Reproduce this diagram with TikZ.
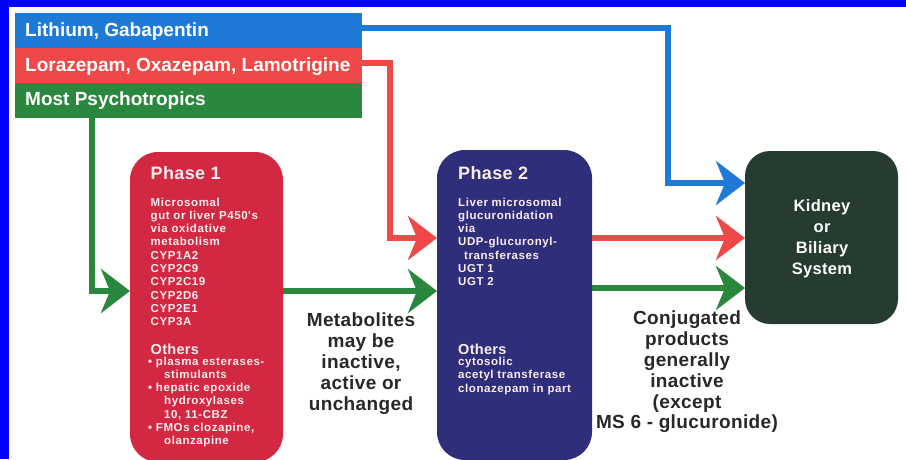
\documentclass[tikz,border=0pt]{standalone}
\usepackage{fontspec}
\setmainfont{Liberation Sans}
\newfontfamily\bodyf{Liberation Sans}[LetterSpace=5]
\newfontfamily\headf{Liberation Sans}[LetterSpace=2]
\usetikzlibrary{arrows.meta,positioning,calc}
\definecolor{frameblue}{RGB}{0,0,255}
\definecolor{barblue}{RGB}{30,122,212}
\definecolor{barred}{RGB}{238,72,72}
\definecolor{bargreen}{RGB}{42,136,62}
\definecolor{ponec}{RGB}{210,40,66}
\definecolor{ptwoc}{RGB}{46,46,122}
\definecolor{kidc}{RGB}{38,60,48}
\definecolor{darktext}{RGB}{40,40,40}
\definecolor{boxtext}{RGB}{250,238,240}
\tikzset{
  bar/.style={minimum width=347pt, minimum height=35pt, inner sep=0pt, outer sep=0pt, text=white},
  bartext/.style={anchor=west, inner sep=0pt, text=white, font=\bfseries\fontsize{19}{21}\selectfont},
  phasebox/.style={rounded corners=28pt, minimum width=154pt, minimum height=310pt, inner sep=0pt, outer sep=0pt},
  heading/.style={anchor=north west, inner sep=0pt, text=boxtext, font=\headf\bfseries\fontsize{18}{20}\selectfont},
  subhead/.style={anchor=north west, inner sep=0pt, text=boxtext, font=\headf\bfseries\fontsize{14.5}{16}\selectfont},
  body/.style={anchor=north west, inner sep=0pt, align=left, text=boxtext, font=\bodyf\bfseries\fontsize{11.5}{13.3}\selectfont},
  note/.style={anchor=north, inner sep=0pt, align=center, text=darktext, font=\headf\bfseries\fontsize{19}{20.8}\selectfont},
  conn/.style={line width=5.5pt, -{Stealth[length=29pt, width=44pt, inset=9pt]}},
}
\begin{document}
\begin{tikzpicture}[x=1pt, y=-1pt]
\useasboundingbox (0,0) rectangle (906,459);
\fill[white] (0,0) rectangle (906,459);
% frame
\fill[frameblue] (0,0) rectangle (9,459);
\fill[frameblue] (0,0) rectangle (906,7);

% drug bars
\node[bar, fill=barblue] (bblue) at (188.5,30.5) {};
\node[bar, fill=barred] (bred) at (188.5,65.5) {};
\node[bar, fill=bargreen] (bgreen) at (188.5,100) {};
\node[bartext] (tblue) at (25,31.5) {Lithium, Gabapentin};
\node[bartext] (tred) at (25,66.5) {Lorazepam, Oxazepam, Lamotrigine};
\node[bartext] (tgreen) at (25,101) {Most Psychotropics};

% boxes
\node[phasebox, fill=ponec, minimum width=153pt] (pone) at (206.5,307) {};
\node[phasebox, fill=ptwoc, minimum width=155pt] (ptwo) at (514.5,305) {};
\node[phasebox, fill=kidc, minimum width=153pt, minimum height=173pt, rounded corners=25pt] (kid) at (821.5,237.5) {};

% phase 1 text
\node[heading] (h1) at (150.5,166) {Phase 1};
\node[body] (b1a) at (150.5,197.5) {Microsomal\\gut or liver P450's\\via oxidative\\metabolism\\CYP1A2\\CYP2C9\\CYP2C19\\CYP2D6\\CYP2E1\\CYP3A};
\node[subhead] (o1) at (150.5,343.5) {Others};
\node[body] (b1b) at (148,356.5) {• plasma esterases-\\\hspace*{16pt}stimulants\\• hepatic epoxide\\\hspace*{16pt}hydroxylases\\\hspace*{16pt}10, 11-CBZ\\• FMOs clozapine,\\\hspace*{16pt}olanzapine};

% phase 2 text
\node[heading] (h2) at (458,166) {Phase 2};
\node[body] (b2a) at (458,197.5) {Liver microsomal\\glucuronidation\\via\\UDP-glucuronyl-\\\hspace*{6pt}transferases\\UGT 1\\UGT 2};
\node[subhead] (o2) at (458,343.5) {Others};
\node[body] (b2b) at (458,357) {cytosolic\\acetyl transferase\\clonazepam in part};

% kidney text
\node[anchor=north, inner sep=0pt, align=center, text=white, font=\headf\bfseries\fontsize{16.5}{21.2}\selectfont] (kt) at (822,199) {Kidney\\or\\Biliary\\System};

% notes
\node[note] (n1) at (361,313) {Metabolites\\may be\\inactive,\\active or\\unchanged};
\node[note] (n2) at (687,311) {Conjugated\\products\\generally\\inactive\\(except\\MS 6 - glucuronide)};

% connectors
\coordinate (kb) at ([yshift=54.5pt]kid.west);
\coordinate (kr) at ([yshift=-0.5pt]kid.west);
\coordinate (kg) at ([yshift=-50.5pt]kid.west);
\coordinate (p2r) at ([yshift=67pt]ptwo.west);
\coordinate (p2g) at ([yshift=14pt]ptwo.west);
\coordinate (p1g) at ([yshift=16pt]pone.west);
\coordinate (bturn) at (668,183);
\coordinate (rturn) at (390,238);
\draw[conn, barblue] ([yshift=2.5pt]bblue.east) -| (bturn) -- (kb);
\draw[conn, barred] ([yshift=2.5pt]bred.east) -| (rturn) -- (p2r);
\draw[conn, bargreen] ([xshift=77pt]bgreen.south west) |- (p1g);
\draw[conn, bargreen] ([yshift=16pt]pone.east) -- (p2g);
\draw[conn, barred] ([yshift=67pt]ptwo.east) -- (kr);
\draw[conn, bargreen] ([yshift=17pt]ptwo.east) -- (kg);
\end{tikzpicture}
\end{document}
